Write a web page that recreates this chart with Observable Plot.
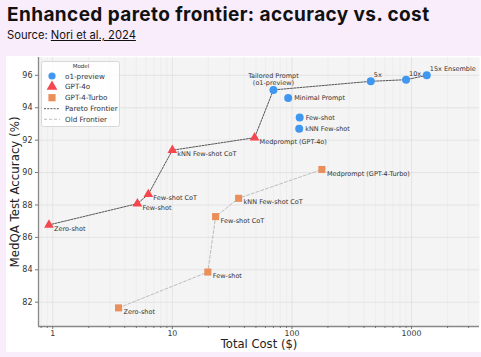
<!DOCTYPE html>
<html><head><meta charset="utf-8">
<script src="https://cdn.jsdelivr.net/npm/d3@7"></script>
<script src="https://cdn.jsdelivr.net/npm/@observablehq/plot@0.6"></script>
<style>
body{margin:0;background:#f9ecfb;width:481px;height:357px;overflow:hidden;position:relative;font-family:Inter, sans-serif}
#title{position:absolute;left:7px;top:3px;font-weight:700;font-size:19px;letter-spacing:0.4px;color:#111;white-space:nowrap}
#src{position:absolute;left:7px;top:28px;font-size:11.2px;color:#111;white-space:nowrap}
#src a{color:#111;text-decoration:underline}
#box{position:absolute;left:6px;top:56px;width:475px;height:296px;background:#fff}
#box svg{position:absolute;left:0;top:0}
</style></head><body>
<div id="title">Enhanced pareto frontier: accuracy vs. cost</div>
<div id="src">Source: <a>Nori et al., 2024</a></div>
<div id="box"></div>
<script>
const models = ["o1-preview", "GPT-4o", "GPT-4-Turbo"];
const colors = ["#3f97f0", "#f5474f", "#eb8f5a"];

const o1Labels = ["Tailored Prompt\n(o1-preview)", "Minimal Prompt", "Few-shot", "kNN Few-shot", "5x", "10x", "15x Ensemble"];
const o1Cost = [70, 93, 116, 115, 456, 900, 1340];
const o1Acc = [95.1, 94.6, 93.4, 92.7, 95.63, 95.73, 96.0];

const gpt4oLabels = ["Zero-shot", "Few-shot", "Few-shot CoT", "kNN Few-shot CoT", "Medprompt (GPT-4o)"];
const gpt4oCost = [0.93, 5.1, 6.3, 10, 48.7];
const gpt4oAcc = [86.77, 88.08, 88.66, 91.38, 92.15];

const turboLabels = ["Zero-shot", "Few-shot", "Few-shot CoT", "kNN Few-shot CoT", "Medprompt (GPT-4-Turbo)"];
const turboCost = [3.55, 19.8, 23, 35.8, 178];
const turboAcc = [81.65, 83.86, 87.28, 88.41, 90.19];

const paretoO1 = ["Tailored Prompt\n(o1-preview)", "5x", "10x", "15x Ensemble"];

const xMajor = [1, 10, 100, 1000];
const xMinor = [0.8, 0.9, 2,3,4,5,6,7,8,9, 20,30,40,50,60,70,80,90, 200,300,400,500,600,700,800,900, 2000,3000];
const yTicks = [82, 84, 86, 88, 90, 92, 94, 96];

const mk = (labels, cost, acc, model) => labels.map((l, i) => ({label: l, cost: cost[i], acc: acc[i], model}));
const o1 = mk(o1Labels, o1Cost, o1Acc, models[0]);
const g4o = mk(gpt4oLabels, gpt4oCost, gpt4oAcc, models[1]);
const turbo = mk(turboLabels, turboCost, turboAcc, models[2]);
const pareto = [...g4o, ...paretoO1.map(n => o1.find(d => d.label === n))];

const xDom = [0.76, 3700], yDom = [80.5, 97.1];
const ensemble = ["5x", "10x", "15x Ensemble"];
const lab = {x: "cost", y: "acc", text: "label", fontSize: 6.5, fill: "#333", textAnchor: "start"};

const chart = Plot.plot({
  width: 475, height: 296, marginLeft: 32, marginRight: 2, marginTop: 1, marginBottom: 26,
  style: {fontFamily: "DejaVu Sans", background: "transparent", overflow: "visible"},
  x: {type: "log", domain: xDom},
  y: {domain: yDom},
  marks: [
    Plot.frame({fill: "#f4f4f4", stroke: null}),
    Plot.gridX(xMinor, {stroke: "#e6e6e6", strokeOpacity: 1, strokeWidth: 0.5}),
    Plot.gridX(xMajor, {stroke: "#dddddd", strokeOpacity: 1, strokeWidth: 0.7}),
    Plot.gridY(yTicks, {stroke: "#dddddd", strokeOpacity: 1, strokeWidth: 0.7}),
    Plot.ruleX([xDom[0]], {stroke: "#888", strokeWidth: 1.3}),
    Plot.ruleY([yDom[0]], {stroke: "#888", strokeWidth: 1.3}),
    Plot.axisX(xMinor.filter(d => d > 0.76), {tickSize: 2, tickFormat: () => "", stroke: "#777", label: null}),
    Plot.axisX(xMajor, {tickSize: 3, tickPadding: 0.5, tickFormat: d => String(d), fontSize: 7.8, fill: "#333", stroke: "#777", label: null}),
    Plot.axisY(yTicks, {tickSize: 3, tickPadding: 3, fontSize: 8, fill: "#333", stroke: "#777", label: null}),
    Plot.text(["MedQA Test Accuracy (%)"], {frameAnchor: "left", textAnchor: "middle", rotate: -90, dx: -23.5, fontSize: 11.8, fill: "#222"}),
    Plot.text(["Total Cost ($)"], {frameAnchor: "bottom", textAnchor: "middle", dy: 21.5, fontSize: 11.6, fill: "#222"}),
    Plot.line(turbo, {x: "cost", y: "acc", stroke: "#b5b5b5", strokeWidth: 0.9, strokeDasharray: "3,2"}),
    Plot.line(pareto, {x: "cost", y: "acc", stroke: "#444", strokeWidth: 0.9, strokeDasharray: "2,1.2"}),
    Plot.dot(turbo, {x: "cost", y: "acc", symbol: "square", fill: colors[2], r: 4}),
    Plot.dot(g4o, {x: "cost", y: "acc", symbol: "triangle", fill: colors[1], r: 3.6}),
    Plot.dot(o1, {x: "cost", y: "acc", symbol: "circle", fill: colors[0], r: 4}),
    Plot.text(turbo, {...lab, dx: 5, dy: 4}),
    Plot.text(g4o, {...lab, dx: 5, dy: 4}),
    Plot.text(o1.filter(d => d.label.startsWith("Tailored")), {...lab, textAnchor: "middle", lineAnchor: "bottom", dy: -5}),
    Plot.text(o1.filter(d => ensemble.includes(d.label)), {...lab, dx: 3, dy: -6}),
    Plot.text(o1.filter(d => !ensemble.includes(d.label) && !d.label.startsWith("Tailored")), {...lab, dx: 6, dy: 0})
  ]
});
document.getElementById("box").appendChild(chart);

// Legend (inside plot, top-left)
const lg = d3.select("#box").append("svg").attr("width", 120).attr("height", 80)
  .style("position", "absolute").style("left", "0px").style("top", "0px")
  .style("font-family", "DejaVu Sans");
lg.append("rect").attr("x", 35.5).attr("y", 5.5).attr("width", 78).attr("height", 65).attr("rx", 2)
  .attr("fill", "#fff").attr("fill-opacity", 0.85).attr("stroke", "#d8d8d8");
lg.append("text").attr("x", 75).attr("y", 12).attr("text-anchor", "middle").attr("font-size", 5.5).attr("fill", "#333").text("Model");
const rowsY = [20, 30.7, 41.7, 52.7, 63.3];
const entries = [...models, "Pareto Frontier", "Old Frontier"];
entries.forEach((name, i) => {
  const y = rowsY[i], cx = 46;
  if (i === 0) lg.append("circle").attr("cx", cx).attr("cy", y).attr("r", 3.6).attr("fill", colors[0]);
  if (i === 1) lg.append("path").attr("d", d3.symbol(d3.symbolTriangle, 50)()).attr("transform", `translate(${cx},${y})`).attr("fill", colors[1]);
  if (i === 2) lg.append("rect").attr("x", cx - 3.6).attr("y", y - 3.6).attr("width", 7.2).attr("height", 7.2).attr("fill", colors[2]);
  if (i === 3) lg.append("line").attr("x1", 38).attr("x2", 54).attr("y1", y).attr("y2", y).attr("stroke", "#444").attr("stroke-width", 0.9).attr("stroke-dasharray", "2,1.2");
  if (i === 4) lg.append("line").attr("x1", 38).attr("x2", 54).attr("y1", y).attr("y2", y).attr("stroke", "#b5b5b5").attr("stroke-width", 0.9).attr("stroke-dasharray", "3,2");
  lg.append("text").attr("x", 59).attr("y", y).attr("dy", "0.35em").attr("font-size", 7.2).attr("fill", "#333").text(name);
});
</script>
</body></html>
